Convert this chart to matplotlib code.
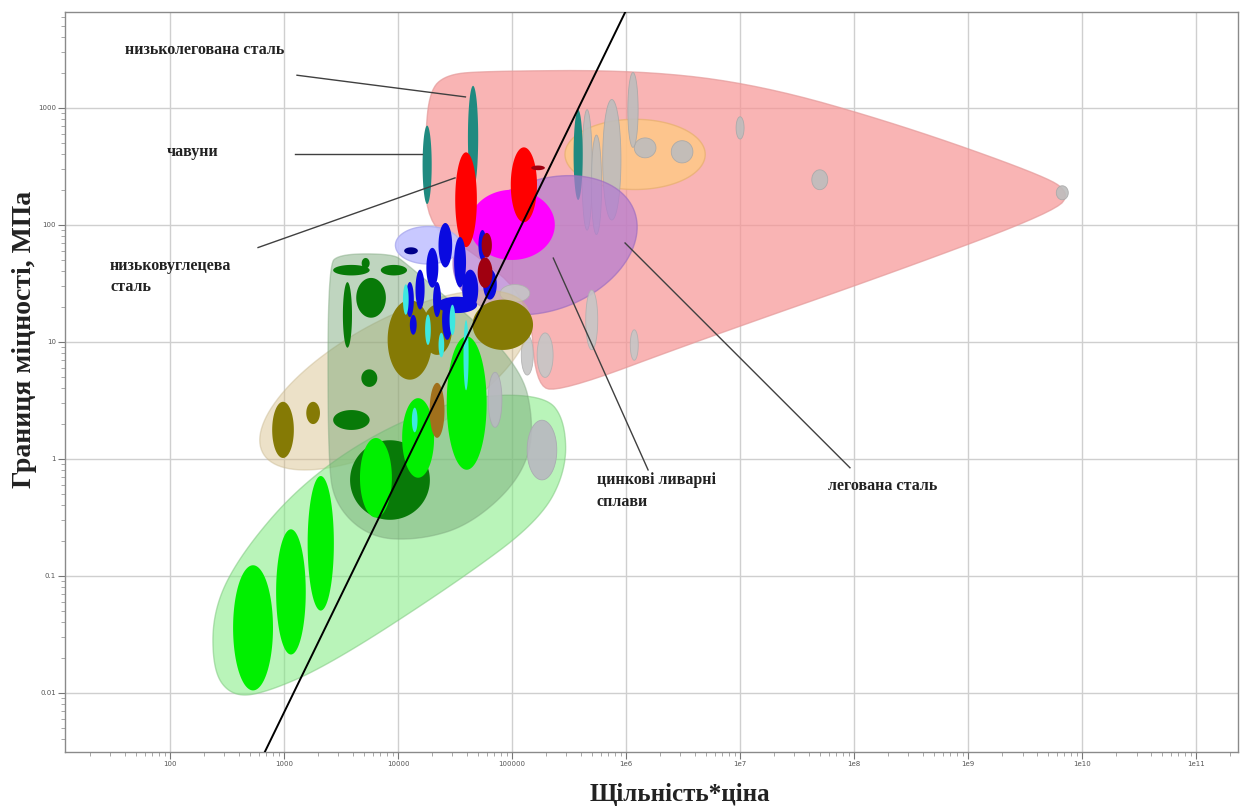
import numpy as np
import matplotlib
matplotlib.use("Agg")
import matplotlib.pyplot as plt
from matplotlib.patches import Polygon
from matplotlib.ticker import LogLocator, FixedLocator, FixedFormatter, NullFormatter

# ---------------- data: density*price vs. strength (MPa) ----------------
# group envelopes (outline vertices)
alloy_steel_env_x = [1.73e4, 1.9e4, 2.6e4, 5.2e4, 1.33e6, 1.5e7, 2.5e8, 4.3e9, 7.9e9, 5.8e9,
                     2.5e8, 4.5e6, 2.6e5, 1.6e5, 1.44e5, 4.3e4, 1.73e4]
alloy_steel_env_y = [560, 1400, 1900, 2060, 2100, 1570, 720, 270, 190, 130,
                     41, 10.4, 3.7, 4.3, 22.9, 61, 100]

green_env_x = [238, 411, 1.38e3, 6.95e3, 4.3e4, 1.95e5, 2.9e5, 3.0e5, 1.76e5,
               3.5e4, 2.5e3, 615, 336, 238]
green_env_y = [0.051, 0.151, 0.60, 1.77, 3.5, 3.5, 2.15, 0.805, 0.30,
               0.092, 0.0173, 0.0096, 0.0096, 0.0157]

dkgreen_env_x = [2.43e3, 3.1e3, 8.9e3, 1.15e4, 1.17e5, 1.6e5, 1.17e5, 4.3e4,
                 1.56e4, 5.7e3, 2.8e3, 2.43e3]
dkgreen_env_y = [45, 56.5, 56.5, 48, 7.0, 1.77, 0.66, 0.273,
                 0.203, 0.211, 0.40, 0.98]

# elliptical envelopes: centre, spread in decades (x, y), tilt
orange_env = (1.2e6, 400, 1.23, 0.60, 0)
purple_env = (1.95e5, 67, 1.67, 1.11, 20)
tan_env = (9.4e3, 4.7, 2.63, 1.03, 28)
lavender_env = (1.83e4, 67, 0.57, 0.32, 0)

# individual materials: centre x, centre y, spread x, spread y (decades)
gray_top_x = [1.47e6, 3.1e6, 1.0e7, 5.0e7, 6.7e9, 4.55e5, 5.5e5, 7.5e5, 1.15e6]
gray_top_y = [455, 421, 674, 243, 188, 295, 220, 360, 960]
gray_top_sx = [0.19, 0.19, 0.07, 0.14, 0.105, 0.09, 0.09, 0.16, 0.09]
gray_top_sy = [0.17, 0.19, 0.19, 0.17, 0.12, 1.03, 0.85, 1.03, 0.64]

gray_low_x = [1.06e5, 5.0e5, 1.95e5, 1.36e5, 1.18e6, 1.83e5, 7.1e4]
gray_low_y = [26, 15.4, 7.7, 7.7, 9.4, 1.19, 3.2]
gray_low_sx = [0.26, 0.105, 0.14, 0.105, 0.07, 0.26, 0.12]
gray_low_sy = [0.15, 0.51, 0.38, 0.34, 0.26, 0.51, 0.47]

teal_x = [1.8e4, 4.55e4, 3.8e5]
teal_y = [326, 560, 396]
teal_sx = [0.08, 0.09, 0.08]
teal_sy = [0.67, 0.88, 0.77]

magenta_x, magenta_y, magenta_sx, magenta_sy = [1.0e5], [100], [0.75], [0.60]

red_x = [3.95e4, 1.27e5]
red_y = [164, 220]
red_sx = [0.19, 0.23]
red_sy = [0.81, 0.64]

dkred_x = [1.69e5, 5.8e4, 6.0e4]
dkred_y = [307, 39, 67]
dkred_sx = [0.12, 0.13, 0.09]
dkred_sy = [0.04, 0.26, 0.21]

navy_x, navy_y, navy_sx, navy_sy = [1.3e4], [60], [0.12], [0.06]

blue_x = [2.6e4, 2.0e4, 1.56e4, 1.27e4, 3.5e4, 4.3e4, 5.5e4, 3.3e4, 2.7e4, 6.4e4, 1.36e4, 2.2e4]
blue_y = [67, 43, 28, 23, 48, 28, 67, 20.7, 15.4, 31, 14, 23]
blue_sx = [0.12, 0.105, 0.08, 0.07, 0.105, 0.14, 0.07, 0.35, 0.09, 0.12, 0.06, 0.07]
blue_sy = [0.38, 0.34, 0.34, 0.30, 0.43, 0.34, 0.26, 0.14, 0.34, 0.26, 0.17, 0.30]

cyan_x = [1.17e4, 1.83e4, 2.4e4, 3.95e4, 3.0e4, 1.4e4]
cyan_y = [23, 12.7, 9.4, 7.7, 15.4, 2.15]
cyan_sx = [0.05, 0.05, 0.05, 0.045, 0.05, 0.05]
cyan_sy = [0.26, 0.26, 0.21, 0.60, 0.26, 0.21]

olive_x = [980, 1.8e3, 1.27e4, 2.2e4, 8.3e4]
olive_y = [1.77, 2.47, 10.4, 12.7, 14]
olive_sx = [0.19, 0.12, 0.39, 0.26, 0.53]
olive_sy = [0.48, 0.19, 0.68, 0.43, 0.43]

brown_x, brown_y, brown_sx, brown_sy = [2.2e4], [2.6], [0.13], [0.47]

dkgreen_x = [3.9e3, 9.2e3, 5.2e3, 3.6e3, 5.8e3, 5.6e3, 3.9e3, 8.5e3]
dkgreen_y = [41, 41, 47, 17, 23.8, 4.9, 2.15, 0.66]
dkgreen_sx = [0.32, 0.23, 0.07, 0.08, 0.26, 0.14, 0.32, 0.70]
dkgreen_sy = [0.09, 0.09, 0.09, 0.56, 0.34, 0.15, 0.17, 0.68]

green_x = [535, 1.15e3, 2.1e3, 6.4e3, 4.0e4, 1.5e4]
green_y = [0.036, 0.073, 0.19, 0.69, 3.0, 1.51]
green_sx = [0.35, 0.26, 0.23, 0.28, 0.35, 0.28]
green_sy = [1.07, 1.07, 1.15, 0.68, 1.14, 0.68]

# guide line: strength = k * (density*price)^2
guide_k = 6.8e-9
guide_power = 2.0

x_ticks = [1e2, 1e3, 1e4, 1e5, 1e6, 1e7, 1e8, 1e9, 1e10, 1e11]
x_tick_labels = ["100", "1000", "10000", "100000", "1e6", "1e7", "1e8", "1e9", "1e10", "1e11"]
y_ticks = [0.01, 0.1, 1, 10, 100, 1000]
y_tick_labels = ["0.01", "0.1", "1", "10", "100", "1000"]

labels = ["низьколегована сталь", "чавуни", "низьковуглецева\nсталь",
          "цинкові ливарні\nсплави", "легована сталь"]
# leader lines (x0, y0, x1, y1) in data units
leader_x0 = [1.3e3, 1.25e3, 592, 2.3e5, 9.8e5]
leader_y0 = [1.9e3, 405, 64, 52, 70]
leader_x1 = [3.9e4, 1.63e4, 3.16e4, 1.56e6, 9.2e7]
leader_y1 = [1.24e3, 405, 252, 0.805, 0.84]


# ---------------- drawing helpers ----------------
def ellipse_xy(x, y, sx, sy, angle=0.0, n=120):
    t = np.linspace(0, 2 * np.pi, n, endpoint=False)
    u = sx / 2 * np.cos(t)
    v = sy / 2 * np.sin(t)
    th = np.deg2rad(angle)
    lx = np.log10(x) + u * np.cos(th) - v * np.sin(th)
    ly = np.log10(y) + u * np.sin(th) + v * np.cos(th)
    return np.column_stack([10 ** lx, 10 ** ly])


def smooth_outline(xs, ys, passes=4):
    p = np.column_stack([np.log10(xs), np.log10(ys)])
    for _ in range(passes):
        nxt = np.roll(p, -1, axis=0)
        q = 0.75 * p + 0.25 * nxt
        r = 0.25 * p + 0.75 * nxt
        p = np.empty((2 * len(q), 2))
        p[0::2] = q
        p[1::2] = r
    return 10 ** p


def add_group(ax, xs, ys, sxs, sys_, color, edge="none", alpha=1.0, lw=0.6, z=3):
    for x, y, sx, sy in zip(xs, ys, sxs, sys_):
        ax.add_patch(Polygon(ellipse_xy(x, y, sx, sy), closed=True, facecolor=color,
                             edgecolor=edge, alpha=alpha, lw=lw, zorder=z))


def add_env(ax, verts, face, edge, alpha, z):
    ax.add_patch(Polygon(verts, closed=True, facecolor=face, edgecolor=edge,
                         alpha=alpha, lw=1.0, zorder=z))


plt.rcParams["font.family"] = ["Liberation Serif", "DejaVu Serif"]

fig = plt.figure(figsize=(12.43, 8.07), dpi=100)
ax = fig.add_axes([0.0523, 0.0682, 0.9437, 0.917])
ax.set_xscale("log")
ax.set_yscale("log")
ax.set_xlim(12, 2.33e11)
ax.set_ylim(3.13e-3, 6.6e3)

ax.grid(which="major", color="#cfcfcf", lw=1.0, zorder=0)
ax.set_axisbelow(True)

# envelopes
add_env(ax, smooth_outline(alloy_steel_env_x, alloy_steel_env_y, passes=3),
        (0.97, 0.58, 0.58), "#e49a9a", 0.7, 1)
add_env(ax, ellipse_xy(*orange_env[:4], orange_env[4]), (1.0, 0.80, 0.50), "#e8b070", 0.75, 1.1)
add_group(ax, gray_top_x, gray_top_y, gray_top_sx, gray_top_sy,
          "#bdbdbd", edge="#a8a8a8", alpha=0.9, z=1.2)
add_group(ax, teal_x, teal_y, teal_sx, teal_sy, "#1f8a80", z=1.3)
add_env(ax, ellipse_xy(*purple_env[:4], purple_env[4]), (0.70, 0.48, 0.82), "#a070c0", 0.7, 1.4)
add_group(ax, gray_low_x[:5], gray_low_y[:5], gray_low_sx[:5], gray_low_sy[:5],
          "#c6c6c6", edge="#b0b0b0", alpha=0.9, z=1.5)
add_group(ax, magenta_x, magenta_y, magenta_sx, magenta_sy, "#ff00ff", z=1.6)
add_group(ax, red_x, red_y, red_sx, red_sy, "#ff0000", z=1.7)
add_env(ax, ellipse_xy(*lavender_env[:4], lavender_env[4]), (0.76, 0.76, 1.0), "#b0b0f0", 0.9, 1.8)
add_group(ax, navy_x, navy_y, navy_sx, navy_sy, "#00008b", z=1.9)

add_env(ax, ellipse_xy(*tan_env[:4], tan_env[4]), (0.84, 0.74, 0.52), "#c8b890", 0.45, 2.0)
add_env(ax, smooth_outline(green_env_x, green_env_y), (0.50, 0.92, 0.50), "#80c880", 0.55, 2.1)
add_env(ax, smooth_outline(dkgreen_env_x, dkgreen_env_y), (0.45, 0.64, 0.45), "#80a880", 0.45, 2.2)
add_group(ax, gray_low_x[5:], gray_low_y[5:], gray_low_sx[5:], gray_low_sy[5:],
          "#b8b8c0", edge="#a8a8b0", alpha=0.9, z=2.3)

add_group(ax, olive_x, olive_y, olive_sx, olive_sy, "#857a05", z=2.5)
add_group(ax, dkgreen_x, dkgreen_y, dkgreen_sx, dkgreen_sy, "#087a08", z=2.6)
add_group(ax, green_x, green_y, green_sx, green_sy, "#00f000", z=2.7)
add_group(ax, brown_x, brown_y, brown_sx, brown_sy, "#a0701c", z=2.8)
add_group(ax, blue_x, blue_y, blue_sx, blue_sy, "#0a0ae0", z=2.9)
add_group(ax, dkred_x, dkred_y, dkred_sx, dkred_sy, "#a00010", z=3.0)
add_group(ax, cyan_x, cyan_y, cyan_sx, cyan_sy, "#3ee8e0", z=3.1)

# guide line
gx = np.logspace(2, 7, 200)
ax.plot(gx, guide_k * gx ** guide_power, color="black", lw=1.4, zorder=4)

# leader lines and labels
for x0, y0, x1, y1 in zip(leader_x0, leader_y0, leader_x1, leader_y1):
    ax.plot([x0, x1], [y0, y1], color="#404040", lw=1.0, zorder=4)

label_pos = [(0.0512, 0.9486, "center"), (0.087, 0.811, "center"), (0.0384, 0.668, "top"),
             (0.4535, 0.378, "top"), (0.6505, 0.3595, "center")]
for txt, (tx, ty, va) in zip(labels, label_pos):
    ax.text(tx, ty, txt, transform=ax.transAxes, ha="left", va=va, fontsize=11.5,
            fontweight="bold", color="#222222", linespacing=1.45, zorder=5)

# axes styling
ax.xaxis.set_major_locator(FixedLocator(x_ticks))
ax.xaxis.set_major_formatter(FixedFormatter(x_tick_labels))
ax.yaxis.set_major_locator(FixedLocator(y_ticks))
ax.yaxis.set_major_formatter(FixedFormatter(y_tick_labels))
ax.xaxis.set_minor_locator(LogLocator(base=10, subs=np.arange(2, 10), numticks=30))
ax.yaxis.set_minor_locator(LogLocator(base=10, subs=np.arange(2, 10), numticks=30))
ax.xaxis.set_minor_formatter(NullFormatter())
ax.yaxis.set_minor_formatter(NullFormatter())
ax.tick_params(which="major", length=5, width=0.8, color="#777777", labelsize=5,
               labelcolor="#555555", pad=1.5)
ax.tick_params(which="minor", length=3, width=0.6, color="#999999")
for lab in ax.get_xticklabels() + ax.get_yticklabels():
    lab.set_family(["DejaVu Sans"])
for s in ax.spines.values():
    s.set_color("#8a8a8a")
    s.set_linewidth(1.0)

fig.text(0.020, 0.579, "Границя міцності, МПа", rotation=90, ha="center", va="center",
         fontsize=20, fontweight="bold", color="#222222")
fig.text(0.547, 0.015, "Щільність*ціна", ha="center", va="center",
         fontsize=18, fontweight="bold", color="#222222")

fig.savefig("out.png", dpi=100)
